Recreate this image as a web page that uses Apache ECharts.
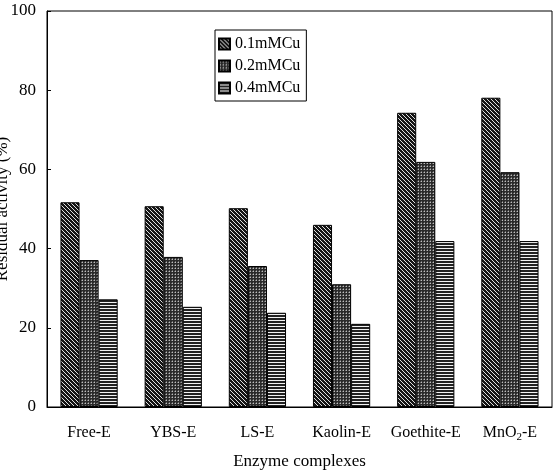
<!DOCTYPE html>
<html>
<head>
<meta charset="utf-8">
<script src="https://cdn.jsdelivr.net/npm/echarts@6/dist/echarts.min.js"></script>
<style>
  html, body { margin: 0; padding: 0; background: #fff; }
  #chart { width: 560px; height: 474px; }
</style>
</head>
<body>
<div id="chart"></div>
<script>
// data
var categories = ['Free-E', 'YBS-E', 'LS-E', 'Kaolin-E', 'Goethite-E', 'MnO{sub|2}-E'];
var seriesNames = ['0.1mMCu', '0.2mMCu', '0.4mMCu'];
var cu01 = [51.7, 50.7, 50.2, 46.0, 74.3, 78.1];
var cu02 = [37.1, 37.9, 35.6, 31.0, 61.9, 59.3];
var cu04 = [27.2, 25.3, 23.8, 21.0, 41.9, 41.9];
var yTicks = [0, 20, 40, 60, 80, 100];

// fill patterns drawn on small canvases
function makeTile(kind) {
  var c = document.createElement('canvas');
  var ctx = c.getContext('2d');
  if (kind === 'diag') {
    c.width = 4; c.height = 4;
    ctx.fillStyle = '#151515';
    ctx.fillRect(0, 0, 4, 4);
    ctx.fillStyle = '#e0e0e0';
    // "\" direction stripes
    for (var i = 0; i < 4; i++) {
      ctx.fillRect(i, i, 1, 1);
    }
  } else if (kind === 'cross') {
    c.width = 3; c.height = 3;
    ctx.fillStyle = '#2a2a2a';
    ctx.fillRect(0, 0, 3, 3);
    ctx.fillStyle = '#bdbdbd';
    ctx.fillRect(1, 1, 1, 1);
    ctx.fillStyle = '#6a6a6a';
    ctx.fillRect(0, 1, 1, 1);
    ctx.fillRect(1, 0, 1, 1);
  } else {
    c.width = 4; c.height = 3;
    ctx.fillStyle = '#f2f2f2';
    ctx.fillRect(0, 0, 4, 3);
    ctx.fillStyle = '#222';
    ctx.fillRect(0, 0, 4, 2);
  }
  return { image: c, repeat: 'repeat' };
}

var fills = [makeTile('diag'), makeTile('cross'), makeTile('horiz')];
var allValues = [cu01, cu02, cu04];

var serif = '"Liberation Serif", "DejaVu Serif", serif';

var myChart = echarts.init(document.getElementById('chart'));

var option = {
  animation: false,
  backgroundColor: '#fff',
  textStyle: { fontFamily: serif, color: '#000' },
  grid: {
    left: 47, right: 8, top: 11, bottom: 67,
    outerBoundsMode: 'none',
    containLabel: false,
    show: true, borderColor: '#000', borderWidth: 1
  },
  legend: {
    orient: 'vertical',
    left: 215, top: 30,
    icon: 'rect',
    itemWidth: 11, itemHeight: 11,
    itemGap: 6,
    padding: [6, 6, 5, 3],
    borderColor: '#000', borderWidth: 1,
    textStyle: { fontFamily: serif, fontSize: 16, color: '#000' },
    data: seriesNames
  },
  xAxis: {
    type: 'category',
    data: categories,
    name: 'Enzyme complexes',
    nameLocation: 'middle',
    nameGap: 46,
    nameTextStyle: { fontFamily: serif, fontSize: 17, color: '#000' },
    axisLine: { lineStyle: { color: '#000' } },
    axisTick: { inside: true, length: 4, lineStyle: { color: '#000' } },
    axisLabel: {
      interval: 0,
      margin: 16,
      lineHeight: 20,
      fontFamily: serif, fontSize: 16, color: '#000',
      rich: { sub: { fontSize: 11, verticalAlign: 'bottom', fontFamily: serif } }
    }
  },
  yAxis: {
    type: 'value',
    min: yTicks[0], max: yTicks[yTicks.length - 1], interval: 20,
    name: 'Residual activity (%)',
    nameLocation: 'middle',
    nameGap: 36,
    nameMoveOverlap: false,
    nameTextStyle: { fontFamily: serif, fontSize: 17, color: '#000' },
    axisLine: { show: true, lineStyle: { color: '#000' } },
    axisTick: { show: true, inside: true, length: 4, lineStyle: { color: '#000' } },
    axisLabel: { margin: 11, fontFamily: serif, fontSize: 17, color: '#000' },
    splitLine: { show: false }
  },
  series: seriesNames.map(function (name, i) {
    return {
      name: name,
      type: 'bar',
      data: allValues[i],
      barGap: '0%',
      barCategoryGap: '32%',
      itemStyle: { color: fills[i], borderColor: '#000', borderWidth: 1 }
    };
  })
};

myChart.setOption(option);
</script>
</body>
</html>
